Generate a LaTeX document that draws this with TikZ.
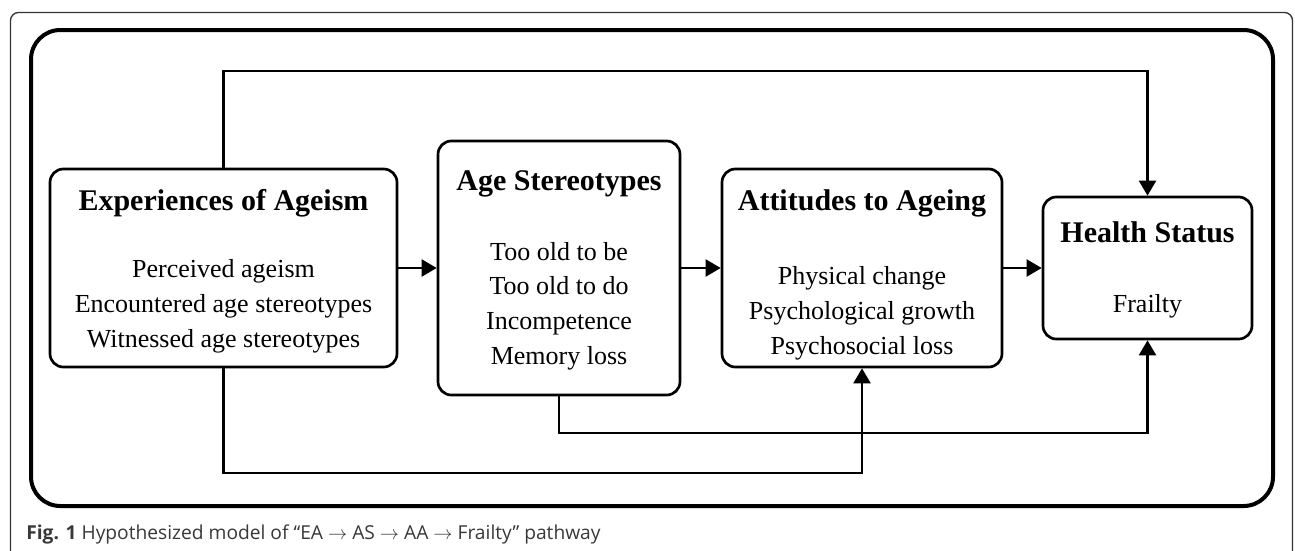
\documentclass[tikz,border=0pt]{standalone}
\usepackage{fontspec}
\setmainfont{Liberation Serif}
\newfontfamily\capfont{Open Sans}
\usepackage{tikz}
\usetikzlibrary{calc}
\usetikzlibrary{arrows.meta}
\definecolor{capgray}{rgb}{0.22,0.22,0.22}
\definecolor{framegray}{rgb}{0.2,0.2,0.2}
\tikzset{
  box/.style={draw=black,line width=2pt,rounded corners=10pt,fill=white},
  boxtitle/.style={font=\fontsize{22.5}{27}\selectfont\bfseries,anchor=base},
  boxbody/.style={font=\fontsize{19.5}{25.9}\selectfont,align=center,anchor=base},
  link/.style={line width=1.7pt,draw=black},
}

\begin{document}
\begin{tikzpicture}[line cap=butt,line join=miter,>={Triangle[length=11.3pt,width=12.8pt]},x=0.75pt,y=-0.75pt]
            \useasboundingbox (0,0) rectangle (1295,550);
            \clip (0,0) rectangle (1295,550);
            % frames
            \draw [line width=1pt,color=framegray,rounded corners=6pt] (10.5,560) |- (1292.5,12.5) -- (1292.5,560);
            \draw [line width=3pt,color=black,rounded corners=22pt] (31,30) rectangle (1273,506);
            % boxes (body anchored at the baseline of its last line)
            \node [box,minimum width=260.25pt,minimum height=148.5pt] (ea) at (223.5,268) {};
            \node [box,minimum width=181.5pt,minimum height=190.5pt] (as) at (559,268) {};
            \node [box,minimum width=210pt,minimum height=148.5pt] (aa) at (862,268) {};
            \node [box,minimum width=156.75pt,minimum height=106.5pt] (hs) at (1147.5,268) {};
            \node [boxtitle] (eaT) at (223.5,210) {Experiences of Ageism};
            \node [boxbody] (eaB) at (223.5,347) {Perceived ageism\\Encountered age stereotypes\\Witnessed age stereotypes};
            \node [boxtitle] (asT) at (559,190) {Age Stereotypes};
            \node [boxbody] (asB) at (559,364) {Too old to be\\Too old to do\\Incompetence\\Memory loss};
            \node [boxtitle] (aaT) at (862,210) {Attitudes to Ageing};
            \node [boxbody] (aaB) at (862,354) {Physical change\\Psychological growth\\Psychosocial loss};
            \node [boxtitle] (hsT) at (1147.5,242) {Health Status};
            \node [boxbody] (hsB) at (1147.5,312) {Frailty};
            % pathways
            \coordinate (topl) at (0,71);
            \coordinate (lowA) at (0,433);
            \coordinate (lowB) at (0,473);
            \draw [link,->] (ea) -- (as);
            \draw [link,->] (as) -- (aa);
            \draw [link,->] (aa) -- (hs);
            \draw [link,->] (ea.north) -- (ea.north |- topl) -| (hs.north);
            \draw [link,->] (as.south) -- (as.south |- lowA) -| (hs.south);
            \draw [link,->] (ea.south) -- (ea.south |- lowB) -| (aa.south);
            % caption
            \node [anchor=base west,text=capgray,font=\capfont\fontsize{14.4}{17}\selectfont,inner sep=0pt] (cap) at (26,539) {\textbf{Fig. 1} Hypothesized model of “EA $\rightarrow$ AS $\rightarrow$ AA $\rightarrow$ Frailty” pathway};
\end{tikzpicture}
\end{document}
